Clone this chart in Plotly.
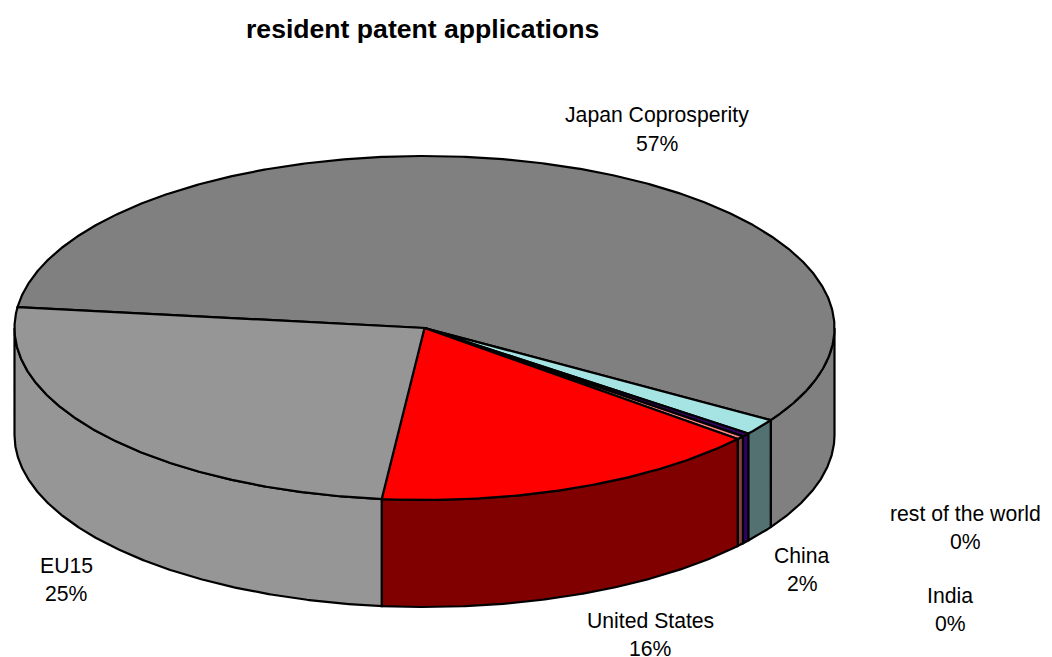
import numpy as np
import plotly.graph_objects as go

# Data (clockwise from the Japan slice)
categories = ["Japan Coprosperity", "China", "India", "rest of the world", "United States", "EU15"]
shares = [57.05, 1.52, 0.33, 0.32, 15.5, 25.28]

# Styles
top_colors = ["#808080", "#A6E3E3", "#330066", "#FF8080", "#FF0000", "#969696"]
side_colors = ["#808080", "#537171", "#330066", "#804040", "#800000", "#969696"]
label_centers = {
    "Japan Coprosperity": (657, 115),
    "China": (802, 555),
    "India": (950, 595),
    "rest of the world": (965.5, 513),
    "United States": (650, 620),
    "EU15": (66, 565),
}

# Geometry of the tilted pie
CX, CY, RX, RY, DEPTH = 424.5, 328, 410, 172, 107
START = 173.0
W, H = 1052, 657
PAGE_MARGIN = 8  # the page body offsets the figure


def pt(deg, dy=0.0):
    t = np.radians(deg)
    return CX + RX * np.cos(t), CY - RY * np.sin(t) + dy


def arc(a, b, dy=0.0):
    n = max(2, int(abs(b - a) * 3) + 1)
    return pt(np.linspace(a, b, n), dy)


fig = go.Figure()
spans = []
a = START
for s in shares:
    b = a - s / sum(shares) * 360
    spans.append((a, b))
    a = b


def poly(x, y, fill, name):
    fig.add_trace(go.Scatter(
        x=list(x), y=list(y), mode="lines", fill="toself", fillcolor=fill,
        line=dict(color="black", width=2.2), name=name, showlegend=False,
        hoverinfo="name",
    ))


# Side walls: only the front half (0 to -180 degrees on the ellipse) is visible
for name, (a, b), c in zip(categories, spans, side_colors):
    hi, lo = min(a, 0), max(b, -180)
    if hi <= lo:
        continue
    xt, yt = arc(hi, lo)
    xb, yb = arc(lo, hi, DEPTH)
    poly(np.r_[xt, xb, xt[0]], np.r_[yt, yb, yt[0]], c, name)

# Top faces
for name, (a, b), c in zip(categories, spans, top_colors):
    xa, ya = arc(a, b)
    poly(np.r_[CX, xa, CX], np.r_[CY, ya, CY], c, name)

for name, v in zip(categories, shares):
    x, y = label_centers[name]
    for text, yy in ((name, y), (f"{round(v)}%", y + 28)):
        fig.add_annotation(x=x, y=yy, text=text, showarrow=False,
                           font=dict(family="Liberation Sans", size=21.2, color="black"),
                           xanchor="center", yanchor="middle")

fig.add_annotation(x=422, y=29, text="<b>resident patent applications</b>", showarrow=False,
                   font=dict(family="Liberation Sans", size=26.6, color="black"),
                   xanchor="center", yanchor="middle")

fig.update_layout(
    width=W, height=H, autosize=False,
    margin=dict(l=0, r=0, t=0, b=0),
    paper_bgcolor="white", plot_bgcolor="white",
    xaxis=dict(range=[PAGE_MARGIN, W + PAGE_MARGIN], visible=False, fixedrange=True),
    yaxis=dict(range=[H + PAGE_MARGIN, PAGE_MARGIN], visible=False, fixedrange=True),
)
fig.write_html("out.html")
